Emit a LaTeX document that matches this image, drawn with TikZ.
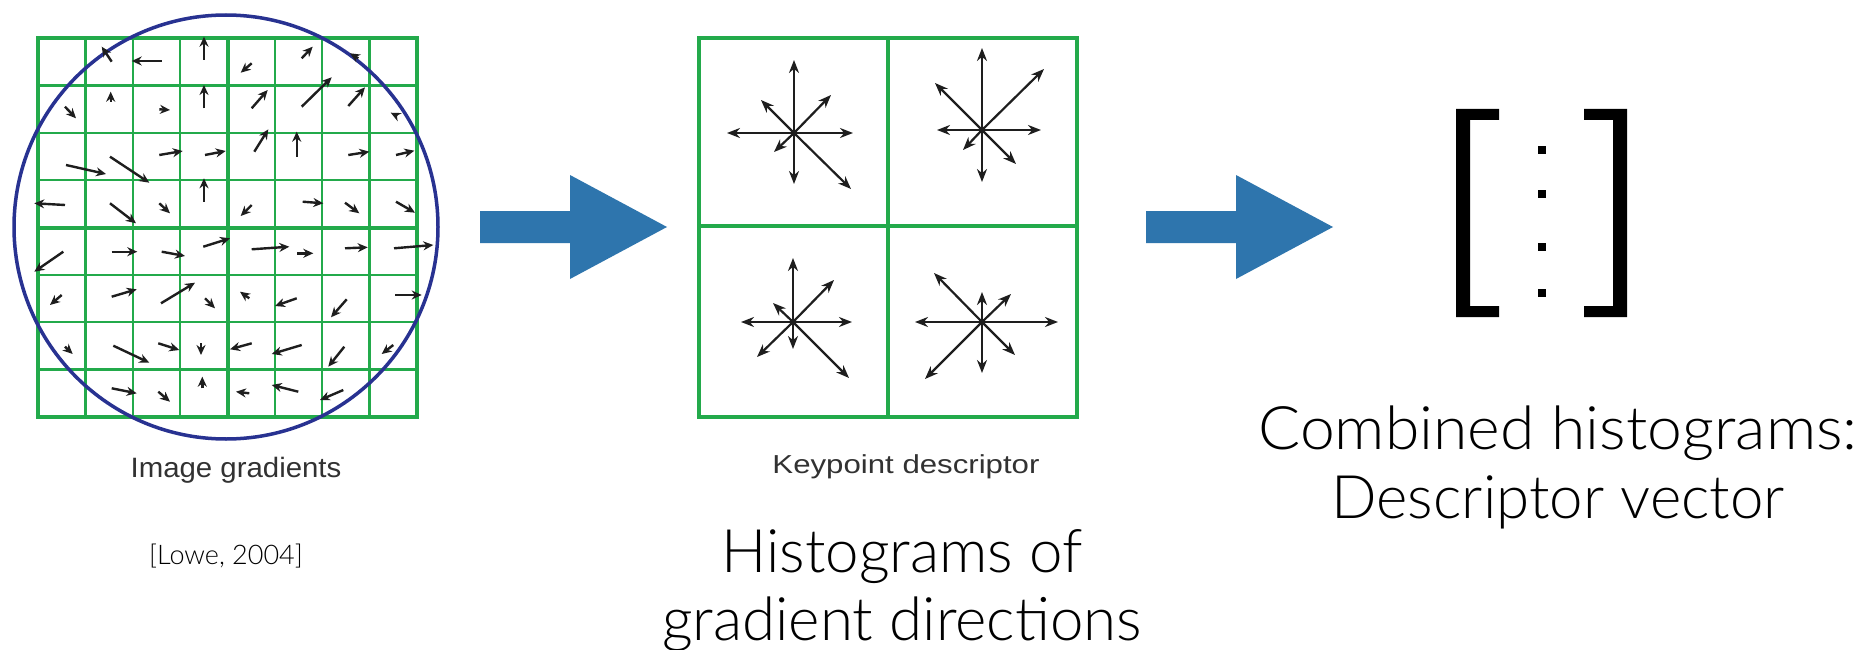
\documentclass[tikz,border=0pt]{standalone}
\usepackage{fontspec}
\setmainfont{Liberation Sans}
\newfontfamily\lightfont{Lato Light}
\usetikzlibrary{arrows.meta}
\definecolor{gridgreen}{RGB}{35,170,75}
\definecolor{circblue}{RGB}{40,50,145}
\definecolor{arrowblue}{RGB}{46,117,173}
\definecolor{ink}{RGB}{30,30,30}
\definecolor{labelgrey}{RGB}{50,50,50}
\tikzset{
  thingrid/.style={draw=gridgreen,line width=2.4pt},
  thickgrid/.style={draw=gridgreen,line width=4pt},
  gradarrow/.style={draw=ink,line width=2.4pt,-{Stealth[length=10pt,width=9pt]}},
  histarrow/.style={draw=ink,line width=2.2pt,-{Stealth[length=13pt,width=10pt]}},
  bigarrow/.style={fill=arrowblue,draw=none},
  bigtext/.style={anchor=base,inner sep=0pt,font=\lightfont\fontsize{60}{72}\selectfont,text=black},
  smalllabel/.style={anchor=base,inner sep=0pt,text=labelgrey},
}
\begin{document}
\begin{tikzpicture}[x=1pt,y=-1pt]
\useasboundingbox (0,0) rectangle (1866,650);
\fill[white] (0,0) rectangle (1866,650);

% ---------- Image gradients grid ----------
\foreach \i in {1,2,3,5,6,7}{
  \draw[thingrid] ({38+\i*47.375},38) -- ({38+\i*47.375},417);
  \draw[thingrid] (38,{38+\i*47.375}) -- (417,{38+\i*47.375});
}
\draw[thickgrid] (227.5,38) -- (227.5,417);
\draw[thickgrid] (38,227.5) -- (417,227.5);
\draw[thickgrid] (38,38) rectangle (417,417);
\draw[draw=circblue,line width=3.5pt] (226,227) circle[radius=212];

% gradient arrows
\foreach \ax/\ay/\bx/\by in {
 111.7/61.7/101.7/46.7, 161.7/61/131.7/61, 204/60/204/36.7, 251.7/63.3/240.7/72.7,
 301.7/58.3/312.7/46.7, 358.3/58.3/350/53.3,
 65/106.7/76/118.3, 110.7/101.7/110.7/91.7, 159.3/109.3/170/110, 204/108.3/204/85,
 251.7/108.3/267.7/90, 301.7/106.7/331.7/77.3, 348.3/106/365/87.3, 397.3/116/390.7/112.7,
 159.3/155/182.7/151, 205/155/225.7/151, 254.3/151.7/268.3/129.3, 296.7/156.7/296.7/131.7,
 348.3/155/369.3/151.7, 396/155/414.3/150.7, 66/165/106/174, 110/156.7/149.3/182.7,
 65/205/34.3/203.3, 110/203.3/136/223.3, 159.3/203.3/170/213.3, 204/201.7/204/178.3,
 251.7/205/240.7/216, 302.7/201.7/323.3/203.3, 345/202.7/359.3/213.3, 396/201.7/415/212.7,
 63.3/251.7/34.3/271.7, 111.7/251.7/137.3/251.7, 161.7/251.7/185/256, 203.3/246.7/230/238.3,
 251.7/249.3/289.3/246.7, 297.3/253.3/313.3/253.3, 345/248.3/367.7/247.3, 394/248.3/433.3/245,
 61.7/295/50/305, 111.7/296.7/136.7/289.3, 161/303.3/195/282.7, 205/298.3/215/308.3,
 249.3/298.3/240/291.7, 296.7/298.3/275/306, 346.7/299.3/331/317.3, 395/295/421.7/295,
 65/346.7/72.7/354, 113.3/345.7/149.3/362.7, 158.3/343.3/179.3/350, 201/343.3/201/355,
 251.7/343.3/230/349.3, 301.7/345/271.7/354, 344.3/346.7/328.3/366.7, 393.3/345/381.7/354,
 111.7/388.3/136.7/393.3, 158.3/391.7/170/401.7, 202.3/388.3/202.3/376.7, 249.3/393.3/236/391.7,
 298.3/391.7/271.7/385, 343.3/390/320/400}{
  \draw[gradarrow] (\ax,\ay) -- (\bx,\by);
}

\node[smalllabel,font=\fontsize{28}{34}\selectfont] (imglabel) at (236,477) {\scalebox{1.05}[1]{Image gradients}};
\node[anchor=base,inner sep=0pt,font=\lightfont\fontsize{27}{32}\selectfont] (cite) at (226,564) {[Lowe, 2004]};

% ---------- big blue arrows ----------
\fill[bigarrow] (480,211) -- (570,211) -- (570,175) -- (667,227) -- (570,279) -- (570,243) -- (480,243) -- cycle;
\fill[bigarrow] (1146,211) -- (1236,211) -- (1236,175) -- (1333,227) -- (1236,279) -- (1236,243) -- (1146,243) -- cycle;

% ---------- Keypoint descriptor ----------
\draw[thickgrid] (888,38) -- (888,417);
\draw[thickgrid] (699,226) -- (1077,226);
\draw[thickgrid] (699,38) rectangle (1077,417);

\foreach \cx/\cy/\ex/\nex/\ney/\nn/\nwx/\nwy/\ww/\swx/\swy/\ss/\sex/\sey in {
  794/133/59/37/38/73/33/33/67/20/19/51/57/56,
  982/130/59/62/61/82/47/47/45/19/20/52/34/34,
  793/322/59/41/42/64/20/19/52/36/35/27/56/56,
  982/322/76/29/28/30/48/49/67/57/57/51/33/33}{
  \coordinate (c) at (\cx,\cy);
  \draw[histarrow] (c) -- ++(\ex,0);
  \draw[histarrow] (c) -- ++(\nex,-\ney);
  \draw[histarrow] (c) -- ++(0,-\nn);
  \draw[histarrow] (c) -- ++(-\nwx,-\nwy);
  \draw[histarrow] (c) -- ++(-\ww,0);
  \draw[histarrow] (c) -- ++(-\swx,\swy);
  \draw[histarrow] (c) -- ++(0,\ss);
  \draw[histarrow] (c) -- ++(\sex,\sey);
  \fill[ink] (c) circle[radius=3.5];
}

\node[smalllabel,font=\fontsize{26}{32}\selectfont] (kplabel) at (906,473) {\scalebox{1.2}[1]{Keypoint descriptor}};

\node[bigtext] (hist1) at (902,572) {Histograms of};
\node[bigtext] (hist2) at (902,640) {gradient directions};

% ---------- descriptor vector bracket ----------
\fill[black] (1499,109) -- (1456,109) -- (1456,317) -- (1499,317) -- (1499,306) -- (1470,306) -- (1470,120) -- (1499,120) -- cycle;
\fill[black] (1584,109) -- (1627,109) -- (1627,317) -- (1584,317) -- (1584,306) -- (1613,306) -- (1613,120) -- (1584,120) -- cycle;
\foreach \dy in {150,194,247,293}{
  \fill[black] (1538,\dy-4) rectangle (1546,\dy+4);
}

\node[bigtext] (comb1) at (1558,449) {\scalebox{1.04}[1]{Combined histograms:}};
\node[bigtext] (comb2) at (1558,518) {Descriptor vector};
\end{tikzpicture}
\end{document}
